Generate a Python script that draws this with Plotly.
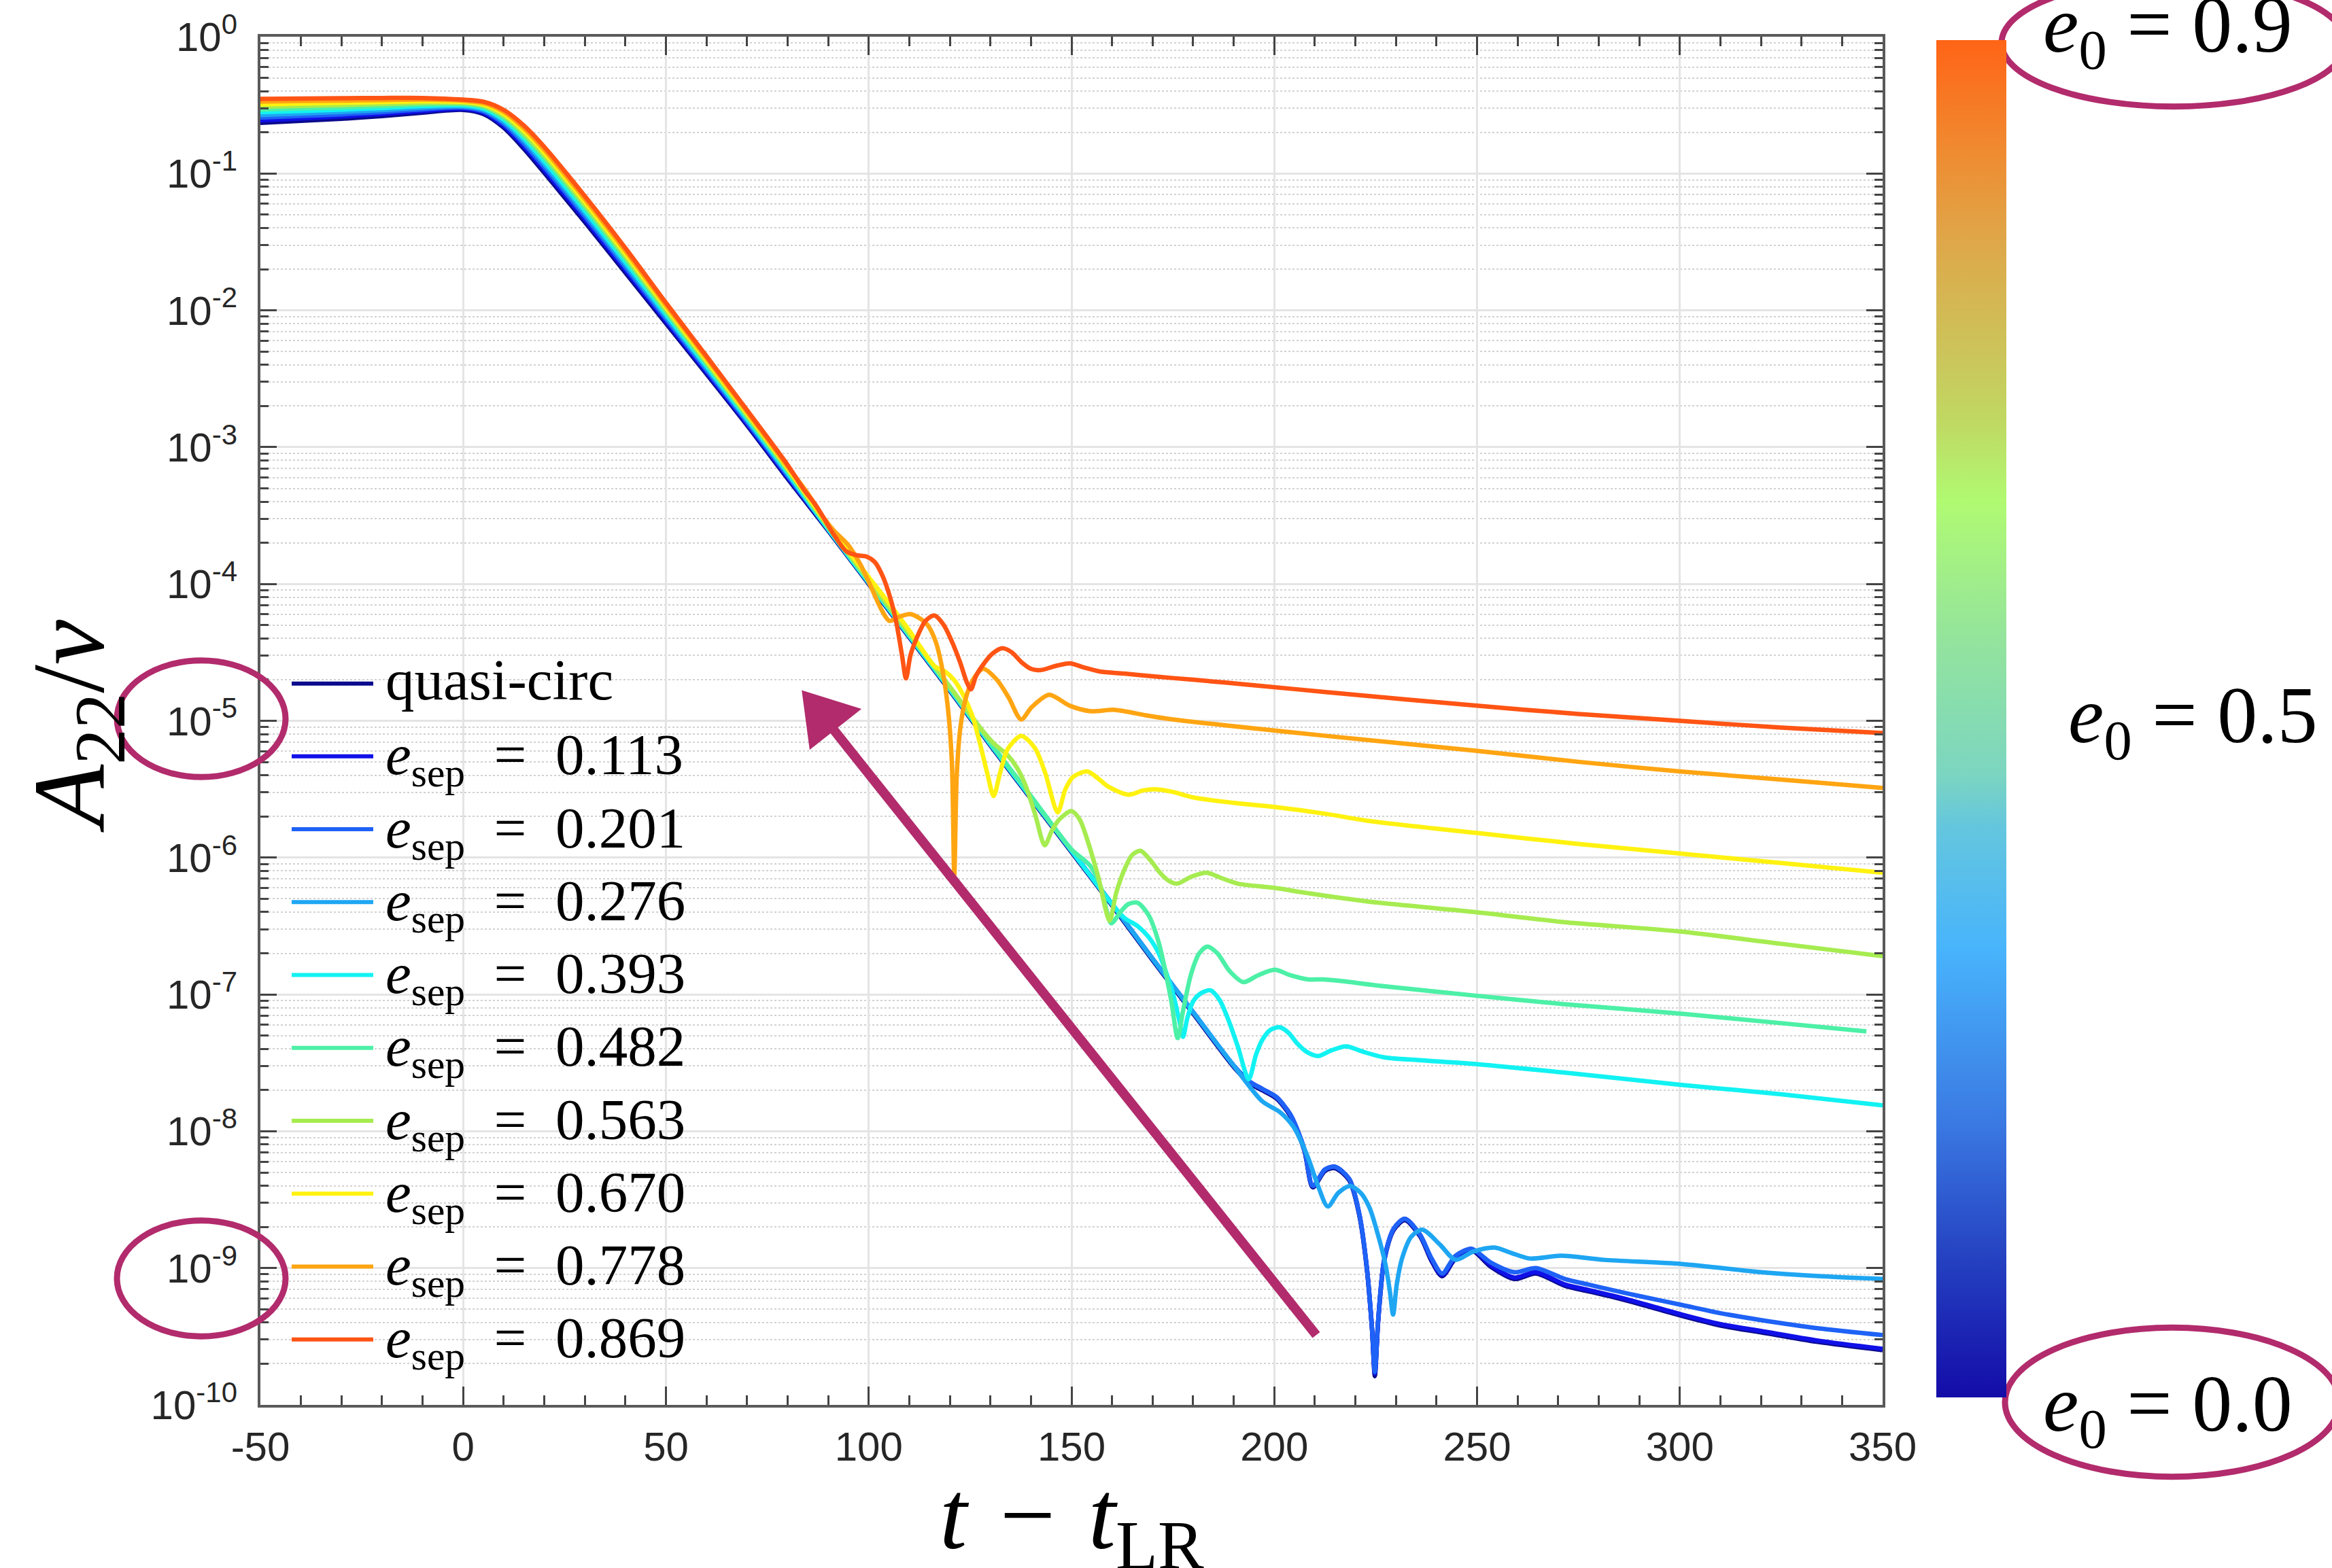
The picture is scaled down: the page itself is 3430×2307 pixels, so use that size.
import numpy as np
import plotly.graph_objects as go

# ------------------------------------------------------------------
# log10(A22/nu) versus t - t_LR for the quasi-circular run and the
# eccentric runs (e_sep).  Plunge/merger part on a shared time grid,
# ringdown tail on each run's own time samples.
# ------------------------------------------------------------------
t_early = [-50, -40, -30, -20, -10, 0, 5, 10, 15, 20, 30, 40, 50, 60, 70, 80]

early_qc = [-0.630, -0.615, -0.600, -0.580, -0.555, -0.535, -0.565, -0.665, -0.820, -0.995, -1.355, -1.725, -2.095, -2.465, -2.840, -3.230]
early_113 = [-0.611, -0.597, -0.583, -0.565, -0.543, -0.527, -0.555, -0.651, -0.801, -0.974, -1.334, -1.705, -2.078, -2.451, -2.828, -3.219]
early_201 = [-0.591, -0.579, -0.567, -0.551, -0.531, -0.518, -0.545, -0.636, -0.782, -0.953, -1.313, -1.685, -2.062, -2.436, -2.816, -3.208]
early_276 = [-0.572, -0.561, -0.550, -0.536, -0.519, -0.510, -0.535, -0.622, -0.763, -0.932, -1.292, -1.665, -2.045, -2.422, -2.803, -3.197]
early_393 = [-0.552, -0.543, -0.533, -0.521, -0.507, -0.502, -0.525, -0.607, -0.744, -0.911, -1.271, -1.645, -2.028, -2.407, -2.791, -3.186]
early_482 = [-0.533, -0.524, -0.517, -0.507, -0.496, -0.493, -0.515, -0.593, -0.726, -0.889, -1.249, -1.625, -2.012, -2.393, -2.779, -3.174]
early_563 = [-0.513, -0.506, -0.500, -0.492, -0.484, -0.485, -0.505, -0.578, -0.707, -0.868, -1.228, -1.605, -1.995, -2.378, -2.767, -3.163]
early_670 = [-0.494, -0.488, -0.483, -0.477, -0.472, -0.477, -0.495, -0.564, -0.688, -0.847, -1.207, -1.585, -1.978, -2.364, -2.754, -3.152]
early_778 = [-0.474, -0.470, -0.467, -0.463, -0.460, -0.468, -0.485, -0.549, -0.669, -0.826, -1.186, -1.565, -1.962, -2.349, -2.742, -3.141]
early_869 = [-0.455, -0.452, -0.450, -0.448, -0.448, -0.460, -0.475, -0.535, -0.650, -0.805, -1.165, -1.545, -1.945, -2.335, -2.730, -3.130]

ring_qc = [(90, -3.61), (100, -4.00), (110, -4.39), (120, -4.78), (130, -5.18), (140, -5.57), (150, -5.96),
           (160, -6.35), (170, -6.75), (180, -7.14), (190, -7.53), (194, -7.65), (197, -7.70), (200.5, -7.76),
           (204, -7.89), (207.4, -8.14), (209.5, -8.41), (212.5, -8.29), (215, -8.27), (218.5, -8.36),
           (221, -8.62), (222.8, -9.00), (224.1, -9.45), (224.8, -9.79), (225.6, -9.40), (227.1, -8.95),
           (229.5, -8.72), (232.2, -8.65), (236, -8.77), (238.8, -8.95), (241.4, -9.06), (244.7, -8.93),
           (248.6, -8.87), (253.4, -8.99), (259.2, -9.08), (264.5, -9.04), (271.7, -9.13), (277.4, -9.17),
           (283.2, -9.21), (290.9, -9.27), (300.5, -9.35), (310, -9.42), (320, -9.47), (334, -9.54), (350, -9.60)]
ring_113 = [(90, -3.60), (100, -3.99), (110, -4.38), (120, -4.77), (130, -5.17), (140, -5.56), (150, -5.95),
            (160, -6.34), (170, -6.74), (180, -7.13), (190, -7.52), (194, -7.64), (197, -7.69), (200.5, -7.75),
            (204, -7.88), (207.4, -8.13), (209.5, -8.40), (212.5, -8.28), (215, -8.26), (218.5, -8.35),
            (221, -8.61), (222.8, -8.99), (224.1, -9.44), (224.8, -9.77), (225.6, -9.39), (227.1, -8.94),
            (229.5, -8.71), (232.2, -8.64), (236, -8.76), (238.8, -8.94), (241.4, -9.05), (244.7, -8.92),
            (248.6, -8.86), (253.4, -8.98), (259.2, -9.07), (264.5, -9.03), (271.7, -9.12), (277.4, -9.16),
            (283.2, -9.20), (290.9, -9.26), (300.5, -9.34), (310, -9.41), (320, -9.46), (334, -9.53), (350, -9.59)]
ring_201 = [(90, -3.60), (100, -3.99), (110, -4.38), (120, -4.77), (130, -5.17), (140, -5.56), (150, -5.95),
            (160, -6.34), (170, -6.74), (180, -7.13), (190, -7.52), (194, -7.64), (197, -7.69), (200.5, -7.75),
            (204, -7.88), (207.4, -8.13), (209.5, -8.40), (212.5, -8.28), (215, -8.26), (218.5, -8.35),
            (221, -8.61), (222.8, -8.99), (224.1, -9.44), (224.8, -9.76), (225.6, -9.39), (227.1, -8.94),
            (229.5, -8.71), (232.2, -8.64), (236, -8.76), (238.8, -8.93), (241.4, -9.04), (244.7, -8.91),
            (248.6, -8.86), (253.4, -8.96), (259.2, -9.03), (264.5, -9.00), (271.7, -9.08), (277.4, -9.12),
            (283.2, -9.16), (290.9, -9.21), (300.5, -9.27), (310, -9.33), (320, -9.38), (334, -9.44), (350, -9.49)]
ring_276 = [(90, -3.60), (100, -3.99), (110, -4.38), (120, -4.77), (130, -5.17), (140, -5.56), (150, -5.95),
            (160, -6.34), (170, -6.74), (180, -7.13), (190, -7.52), (197, -7.78), (201.4, -7.86), (204.8, -7.97),
            (208.3, -8.19), (210.8, -8.40), (213.2, -8.55), (215.8, -8.45), (218.7, -8.40), (221.3, -8.45),
            (223.5, -8.56), (225.6, -8.76), (227.4, -8.97), (228.5, -9.17), (229.3, -9.34), (230.2, -9.12),
            (231.5, -8.93), (233.8, -8.77), (236.5, -8.72), (240.9, -8.83), (244.7, -8.94), (249, -8.88),
            (254.3, -8.85), (258.5, -8.89), (263, -8.93), (270.7, -8.91), (281.3, -8.94), (300.5, -8.97),
            (320, -9.03), (335, -9.06), (350, -9.08)]
ring_393 = [(90, -3.60), (100, -3.99), (110, -4.38), (120, -4.77), (130, -5.17), (140, -5.56), (150, -5.95),
            (160, -6.34), (163, -6.44), (166.3, -6.50), (169, -6.58), (171.5, -6.70), (174.9, -6.98), (176.5, -7.18),
            (177.5, -7.31), (178.5, -7.18), (180, -7.05), (182, -6.99), (184.3, -6.97), (186.5, -7.04),
            (188.6, -7.18), (191, -7.38), (193.7, -7.62), (195.5, -7.44), (197.1, -7.33), (199, -7.26),
            (201.4, -7.24), (203.5, -7.28), (205.7, -7.36), (208, -7.42), (210.8, -7.45), (214, -7.41),
            (217.7, -7.38), (222, -7.42), (227.1, -7.46), (235.6, -7.48), (250, -7.51), (271, -7.57),
            (300, -7.66), (325, -7.73), (350, -7.81)]
ring_482 = [(90, -3.59), (100, -3.98), (110, -4.37), (120, -4.76), (130, -5.16), (140, -5.55), (150, -5.94),
            (154.6, -6.06), (157.3, -6.22), (159.8, -6.48), (162, -6.40), (164, -6.34), (166.3, -6.33),
            (169, -6.42), (171.5, -6.62), (174.5, -7.03), (176.2, -7.32), (177.5, -7.12), (179.5, -6.85),
            (181.5, -6.70), (183.5, -6.65), (186, -6.70), (189, -6.83), (192.4, -6.91), (196, -6.86),
            (200.1, -6.82), (204, -6.86), (208.3, -6.89), (212, -6.89), (216, -6.90), (227, -6.94),
            (250, -7.01), (271, -7.07), (300, -7.14), (325, -7.21), (346, -7.27)]
ring_563 = [(90, -3.58), (100, -3.97), (110, -4.36), (120, -4.75), (128, -5.07), (131, -5.17), (134.2, -5.25),
            (136.5, -5.34), (138.5, -5.46), (141, -5.68), (143.4, -5.91), (145.2, -5.80), (147, -5.72),
            (150, -5.66), (152, -5.72), (153.9, -5.87), (156.5, -6.13), (159.4, -6.46), (161, -6.26),
            (163.3, -6.07), (165, -5.98), (167, -5.95), (169.5, -6.02), (171.8, -6.11), (174, -6.17),
            (176.1, -6.19), (179.5, -6.14), (183.3, -6.11), (187, -6.15), (191, -6.19), (199.7, -6.22),
            (208.3, -6.26), (222.8, -6.32), (250, -6.40), (271, -6.47), (300, -6.54), (325, -6.63), (350, -6.72)]
ring_670 = [(90, -3.57), (100, -3.95), (105, -4.14), (110, -4.34), (113, -4.47), (116.2, -4.60), (118.8, -4.64),
            (121, -4.70), (123.1, -4.80), (125.5, -4.96), (127.3, -5.15), (129.2, -5.38), (130.8, -5.55),
            (132.4, -5.38), (134.2, -5.21), (137.6, -5.11), (141, -5.20), (143.5, -5.38), (146.6, -5.67),
            (148.5, -5.50), (150.4, -5.41), (153.9, -5.37), (156.5, -5.42), (159, -5.48), (164.1, -5.54),
            (167.5, -5.51), (170.5, -5.50), (175, -5.52), (180, -5.56), (190, -5.60), (200, -5.63),
            (212.7, -5.68), (222.8, -5.73), (250, -5.82), (275, -5.90), (300, -5.97), (325, -6.04), (350, -6.11)]
ring_778 = [(85, -3.34), (88.5, -3.50), (91.4, -3.61), (94.8, -3.71), (98, -3.86), (101, -4.05), (103, -4.18),
            (105.1, -4.27), (107.5, -4.24), (110.2, -4.22), (112.5, -4.25), (114.5, -4.30), (116.5, -4.42),
            (118, -4.60), (119.5, -4.90), (120.5, -5.30), (121.1, -6.13), (121.7, -5.40), (122.6, -5.05),
            (123.8, -4.85), (125.5, -4.71), (128.2, -4.62), (131.6, -4.70), (134.5, -4.83), (137.6, -4.99),
            (140.2, -4.90), (144.5, -4.81), (149.6, -4.89), (154.7, -4.93), (160.7, -4.92), (168.4, -4.96),
            (175, -4.99), (190, -5.04), (212.7, -5.11), (250, -5.22), (275, -5.30), (300, -5.37),
            (325, -5.43), (350, -5.49)]
ring_869 = [(84, -3.31), (87.1, -3.43), (91.4, -3.64), (94.4, -3.76), (97, -3.79), (99.5, -3.80), (101.5, -3.84),
            (103.4, -3.94), (105.3, -4.10), (106.8, -4.28), (108.2, -4.52), (109.2, -4.69), (110.3, -4.52),
            (111.9, -4.39), (114, -4.27), (116.2, -4.23), (118.5, -4.30), (120.5, -4.42), (122.5, -4.57),
            (124.2, -4.72), (125.2, -4.77), (126.5, -4.67), (128.2, -4.59), (130.5, -4.51), (132.9, -4.47),
            (135.3, -4.50), (137.6, -4.57), (140, -4.62), (142.3, -4.63), (146, -4.60), (149.6, -4.58),
            (153, -4.61), (157, -4.64), (163, -4.655), (170, -4.675), (180, -4.70), (195, -4.74),
            (212.7, -4.79), (250, -4.89), (275, -4.95), (300, -5.00), (325, -5.05), (350, -5.09)]

legend_names = ["quasi-circ", "0.113", "0.201", "0.276", "0.393", "0.482", "0.563", "0.670", "0.778", "0.869"]
line_colors = ["#0A0A8C", "#1010E8", "#1E62F6", "#1EA6F2", "#12F2F2",
               "#4CF0A6", "#A6EC50", "#FFF210", "#FFA512", "#FF5414"]

runs = [(early_qc, ring_qc), (early_113, ring_113), (early_201, ring_201), (early_276, ring_276),
        (early_393, ring_393), (early_482, ring_482), (early_563, ring_563), (early_670, ring_670),
        (early_778, ring_778), (early_869, ring_869)]

x_ticks = [-50, 0, 50, 100, 150, 200, 250, 300, 350]
decades = list(range(-10, 1))

# colour bar: initial eccentricity e0 from 0.0 (bottom) to 0.9 (top)
e0_range = [0.0, 0.9]
e0_scale = [[0.00, "#140CA8"], [0.10, "#2440C0"], [0.20, "#3A78E2"], [0.33, "#48B4FC"],
            [0.42, "#64C6DE"], [0.46, "#7CD6C0"], [0.56, "#94E49C"], [0.66, "#B0FA72"],
            [0.72, "#C0D862"], [0.77, "#CCC45A"], [0.85, "#DEA84A"], [0.92, "#F08A30"], [1.00, "#FF6416"]]

# ------------------------------------------------------------------
W, H = 3430, 2307
PL, PR, PT, PB = 383, 2769, 49, 2067   # plot-area edges in page pixels


def px(X):
    return (X - PL) / (PR - PL)


def py(Y):
    return (PB - Y) / (PB - PT)


MAG = "#B22B6C"
SERIF = "Liberation Serif"
SANS = "Liberation Sans"

fig = go.Figure()

for (early, ring), col in zip(runs, line_colors):
    t = t_early + [p[0] for p in ring]
    lg = early + [p[1] for p in ring]
    fig.add_trace(go.Scatter(
        x=t, y=np.power(10.0, lg), mode="lines",
        line=dict(color=col, width=6.5, shape="spline", smoothing=0.8),
        showlegend=False, hoverinfo="skip"))

# colour bar carrier (markers lie outside the visible range)
fig.add_trace(go.Scatter(
    x=[-100, -100], y=[1e-20, 1e-20], mode="markers", showlegend=False, hoverinfo="skip",
    marker=dict(size=1, color=e0_range, cmin=e0_range[0], cmax=e0_range[1],
                colorscale=e0_scale, showscale=True,
                colorbar=dict(thickness=103, thicknessmode="pixels",
                              len=1997, lenmode="pixels",
                              x=px(2848), xanchor="left", xpad=0,
                              y=py(1054.5), yanchor="middle", ypad=0,
                              outlinewidth=0, ticks="", showticklabels=False))))

shapes = []
annotations = []

# hand-made legend
row_y = [1003 + 107.5 * i for i in range(len(legend_names))]
for name, col, yy in zip(legend_names, line_colors, row_y):
    shapes.append(dict(type="line", xref="paper", yref="paper",
                       x0=px(429), x1=px(549), y0=py(yy), y1=py(yy),
                       line=dict(color=col, width=6)))
    if name == "quasi-circ":
        txt, yt = name, yy - 6
    else:
        txt, yt = "<i>e</i><sub>sep</sub>\u2002=\u2002" + name, yy + 4
    annotations.append(dict(text=txt, xref="paper", yref="paper", x=px(565), y=py(yt),
                            xanchor="left", yanchor="middle", showarrow=False,
                            font=dict(family=SERIF, size=85, color="black")))

# colour-bar labels
for label, X, Yc in [("0.9", 3003, 40), ("0.5", 3040, 1058), ("0.0", 3003, 2074)]:
    annotations.append(dict(text="<i>e</i><sub>0</sub> = " + label, xref="paper", yref="paper",
                            x=px(X), y=py(Yc), xanchor="left", yanchor="middle", showarrow=False,
                            font=dict(family=SERIF, size=118, color="black")))

# axis titles
annotations.append(dict(text="<i>t</i>\u2004\u2212\u2004<i>t</i><sub>LR</sub>", xref="paper", yref="paper",
                        x=0.5, y=py(2240), xanchor="center", yanchor="middle", showarrow=False,
                        font=dict(family=SERIF, size=145, color="black")))
annotations.append(dict(text="<i>A</i><sub>22</sub>/<i>\u03bd</i>", xref="paper", yref="paper",
                        x=px(112), y=py(1066), xanchor="center", yanchor="middle", showarrow=False,
                        textangle=-90, font=dict(family=SERIF, size=150, color="black")))

# highlight ellipses
for (x0, x1, y0, y1) in [(172, 420, 969, 1141), (172, 420, 1795, 1966),
                         (2944, 3450, -36, 152), (2949, 3441, 1953, 2173)]:
    shapes.append(dict(type="circle", xref="paper", yref="paper",
                       x0=px(x0), x1=px(x1), y0=py(y1), y1=py(y0),
                       line=dict(color=MAG, width=9), layer="above"))

# arrow along the direction of increasing eccentricity
shapes.append(dict(type="line", xref="paper", yref="paper",
                   x0=px(1936), y0=py(1964), x1=px(1222), y1=py(1066),
                   line=dict(color=MAG, width=14), layer="above"))
shapes.append(dict(type="path", xref="paper", yref="paper",
                   path=f"M {px(1181)},{py(1015)} L {px(1264)},{py(1041)} L {px(1192)},{py(1098)} Z",
                   fillcolor=MAG, line=dict(color=MAG, width=3), layer="above"))

minor_vals = [m * 10.0 ** k for k in range(-10, 0) for m in range(2, 10)]

fig.update_layout(
    width=W, height=H,
    margin=dict(l=PL, r=W - PR, t=PT, b=H - PB, pad=0),
    paper_bgcolor="white", plot_bgcolor="white",
    showlegend=False,
    shapes=shapes, annotations=annotations,
    xaxis=dict(range=[-50, 350], tickmode="array", tickvals=x_ticks,
               ticktext=[str(v) for v in x_ticks],
               ticks="inside", ticklen=27, tickwidth=3, tickcolor="#444444",
               showline=True, linecolor="#5A5A5A", linewidth=4, mirror="ticks",
               showgrid=True, gridcolor="#E4E4E4", gridwidth=3, zeroline=False,
               tickfont=dict(family=SANS, size=60, color="#262626"),
               ticklabelstandoff=6,
               minor=dict(dtick=10, tick0=-50, ticks="inside", ticklen=14, tickwidth=3,
                          tickcolor="#444444", showgrid=False)),
    yaxis=dict(type="log", range=[-10, 0],
               tickmode="array", tickvals=[10.0 ** k for k in decades],
               ticktext=[f"10<sup>{k}</sup>" for k in decades],
               ticks="inside", ticklen=24, tickwidth=3, tickcolor="#444444",
               showline=True, linecolor="#5A5A5A", linewidth=4, mirror="ticks",
               showgrid=True, gridcolor="#E4E4E4", gridwidth=3, zeroline=False,
               tickfont=dict(family=SANS, size=60, color="#262626"),
               ticklabelstandoff=18,
               minor=dict(tickmode="array", tickvals=minor_vals, ticks="inside", ticklen=12,
                          tickwidth=3, tickcolor="#444444", showgrid=True,
                          gridcolor="#D2D2D2", gridwidth=2, griddash="dot")),
)

fig.write_html("out.html")
